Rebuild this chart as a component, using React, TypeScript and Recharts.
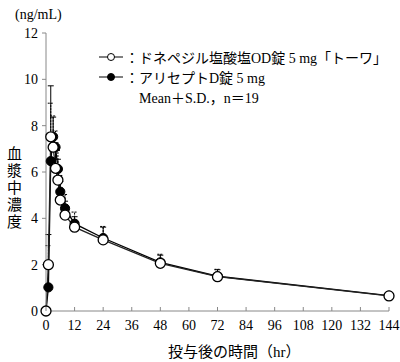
import { LineChart, Line, XAxis, YAxis, ErrorBar } from "recharts"

// time after dosing (hr)
const hours = [0, 1, 2, 3, 4, 5, 6, 8, 12, 24, 48, 72, 144]
// ドネペジル塩酸塩OD錠5mg「トーワ」
const odMean = [0, 2.0, 7.52, 7.07, 6.16, 5.65, 4.79, 4.14, 3.62, 3.07, 2.06, 1.48, 0.65]
const odSd = [0, 1.3, 2.2, 1.3, 1.1, 0.9, 0.8, 0.6, 0.45, 0.55, 0.35, 0.3, 0.15]
// アリセプトD錠5mg
const ariMean = [0, 1.02, 6.47, 7.52, 7.07, 6.13, 5.15, 4.43, 3.77, 3.15, 2.1, 1.5, 0.66]
const ariSd = [0, 1.8, 2.5, 0.9, 0.7, 0.8, 0.7, 0.6, 0.5, 0.5, 0.35, 0.3, 0.15]

const xTicks = [0, 12, 24, 36, 48, 60, 72, 84, 96, 108, 120, 132, 144]
const yTicks = [0, 2, 4, 6, 8, 10, 12]

const FONT = '"Liberation Serif", "DejaVu Serif", "Noto Sans CJK JP", serif'
const AXIS = "#888"

const data = hours.map((t, i) => ({
  t,
  od: odMean[i],
  odErr: [0, odSd[i]],
  ari: ariMean[i],
  ariErr: [0, ariSd[i]],
}))

const XTick = ({ x, y, payload }: any) => (
  <g>
    <line x1={x} x2={x} y1={y - 8} y2={y - 12} stroke={AXIS} />
    <text x={x} y={y} dy="0.75em" textAnchor="middle" fontSize={14} fontFamily={FONT} fill="#000">
      {payload.value}
    </text>
  </g>
)

const OpenDot = ({ cx, cy }: any) => (
  <circle cx={cx} cy={cy} r={5} fill="#fff" stroke="#000" strokeWidth={1.3} />
)
const FilledDot = ({ cx, cy }: any) => (
  <circle cx={cx} cy={cy} r={4.6} fill="#000" stroke="#000" strokeWidth={1} />
)

export default function App() {
  return (
    <div style={{ position: "absolute", left: 0, top: 0, width: 400, height: 362, background: "#fff", fontFamily: FONT }}>
      <LineChart
        width={400}
        height={362}
        data={data}
        margin={{ top: 33, right: 11, bottom: 0, left: 0 }}
      >
        <XAxis
          dataKey="t"
          type="number"
          domain={[0, 144]}
          ticks={xTicks}
          interval={0}
          height={51}
          stroke={AXIS}
          tickSize={0}
          tickMargin={8}
          tick={<XTick />}
        />
        <YAxis
          type="number"
          domain={[0, 12]}
          ticks={yTicks}
          interval={0}
          width={46}
          stroke={AXIS}
          tickSize={4}
          tickMargin={4}
          tick={{ fill: "#000", fontSize: 14, fontFamily: FONT }}
        />
        <Line
          dataKey="ari"
          stroke="#000"
          strokeWidth={1.3}
          dot={<FilledDot />}
          activeDot={false}
          isAnimationActive={false}
        >
          <ErrorBar dataKey="ariErr" direction="y" width={3} stroke="#000" strokeWidth={1} strokeDasharray="2 1" />
        </Line>
        <Line
          dataKey="od"
          stroke="#222"
          strokeWidth={1.3}
          dot={<OpenDot />}
          activeDot={false}
          isAnimationActive={false}
        >
          <ErrorBar dataKey="odErr" direction="y" width={3} stroke="#000" strokeWidth={1} />
        </Line>
      </LineChart>

      <div style={{ position: "absolute", left: 15, top: 7, fontSize: 14 }}>(ng/mL)</div>
      <div style={{ position: "absolute", left: 5, top: 146, fontSize: 15, writingMode: "vertical-rl", lineHeight: "15px", letterSpacing: 2 }}>
        血漿中濃度
      </div>
      <div style={{ position: "absolute", left: 168, top: 340, fontSize: 15 }}>投与後の時間（hr）</div>

      <div style={{ position: "absolute", left: 97, top: 48, height: 18, display: "flex", alignItems: "center", fontSize: 14, whiteSpace: "nowrap" }}>
        <svg width={28} height={18}>
          <line x1={2} x2={26} y1={9} y2={9} stroke="#000" strokeWidth={1} />
          <circle cx={14} cy={9} r={3.5} fill="#fff" stroke="#000" strokeWidth={1} />
        </svg>
        <span>：ドネペジル塩酸塩OD錠 5 mg「トーワ」</span>
      </div>
      <div style={{ position: "absolute", left: 97, top: 68, height: 18, display: "flex", alignItems: "center", fontSize: 14, whiteSpace: "nowrap" }}>
        <svg width={28} height={18}>
          <line x1={2} x2={26} y1={9} y2={9} stroke="#000" strokeWidth={1} />
          <circle cx={14} cy={9} r={3.5} fill="#000" stroke="#000" strokeWidth={1} />
        </svg>
        <span>：アリセプトD錠 5 mg</span>
      </div>
      <div style={{ position: "absolute", left: 139, top: 88, height: 18, display: "flex", alignItems: "center", fontSize: 14, whiteSpace: "nowrap" }}>
        Mean＋S.D.，n＝19
      </div>
    </div>
  )
}
